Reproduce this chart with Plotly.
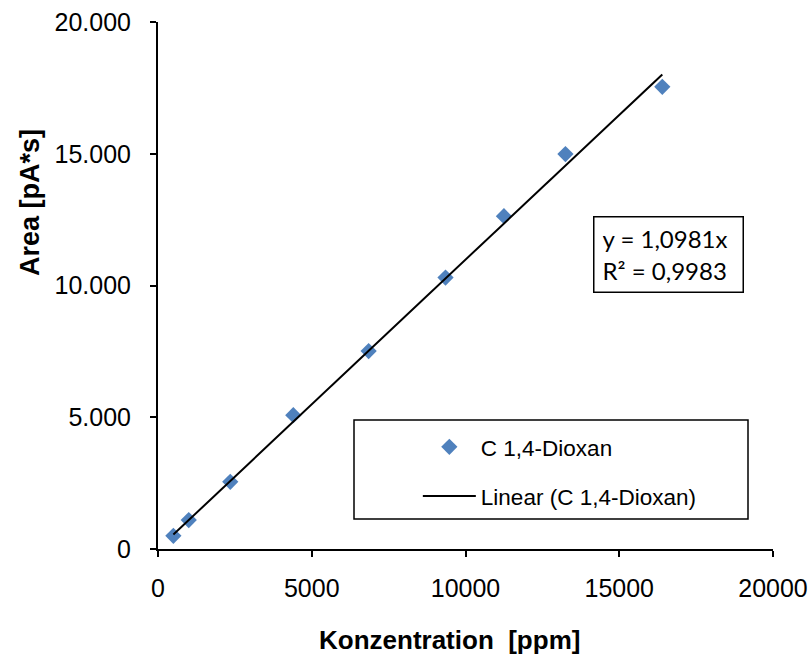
import plotly.graph_objects as go

# Data
konz = [500, 1000, 2350, 4400, 6850, 9350, 11250, 13250, 16400]
area = [500, 1100, 2550, 5080, 7510, 10300, 12630, 14990, 17540]
slope = 1.0981
r2_text = "R² = 0,9983"
eq_text = "y = 1,0981x"

x_ticks = [0, 5000, 10000, 15000, 20000]
x_ticktext = ["0", "5000", "10000", "15000", "20000"]
y_ticks = [0, 5000, 10000, 15000, 20000]
y_ticktext = ["0", "5.000", "10.000", "15.000", "20.000"]

series_name = "C 1,4-Dioxan"
trend_name = "Linear (C 1,4-Dioxan)"

x_fit = [min(konz), max(konz)]
y_fit = [slope * v for v in x_fit]

FONT = "Liberation Sans, Arial, sans-serif"

fig = go.Figure()
fig.add_trace(go.Scatter(
    x=konz, y=area, mode="markers", name=series_name,
    marker=dict(symbol="diamond", size=12.5, color="#4F81BD"),
    legendgroup="a",
))
fig.add_trace(go.Scatter(
    x=x_fit, y=y_fit, mode="lines", name=trend_name,
    line=dict(color="black", width=2),
    legendgroup="b",
))

L, R, T, B = 158, 37, 22, 111
W, H = 810 - L - R, 660 - T - B
fig.update_layout(
    width=810, height=660,
    margin=dict(l=L, r=R, t=T, b=B, autoexpand=False),
    paper_bgcolor="white", plot_bgcolor="white",
    font=dict(family=FONT, size=25, color="black"),
    showlegend=True,
    legend=dict(
        x=0.4225, y=0.234, xanchor="left", yanchor="top",
        bgcolor="rgba(0,0,0,0)", borderwidth=0,
        font=dict(size=22.5, family=FONT),
        itemwidth=53, tracegroupgap=17, traceorder="grouped",
    ),
    xaxis=dict(
        range=[0, 20000], tickvals=x_ticks, ticktext=x_ticktext,
        showgrid=False, zeroline=False, showline=True, automargin=False,
        linecolor="black", linewidth=2, ticks="outside", ticklen=6,
        tickwidth=2, tickcolor="black", ticklabelstandoff=10,
    ),
    yaxis=dict(
        range=[0, 20000], tickvals=y_ticks, ticktext=y_ticktext,
        showgrid=False, zeroline=False, showline=True, automargin=False,
        linecolor="black", linewidth=2, ticks="outside", ticklen=6,
        tickwidth=2, tickcolor="black", ticklabelstandoff=14,
    ),
)

# X axis title (slightly left of centre, as in the reference)
fig.add_annotation(
    xref="paper", yref="paper", x=(449 - L) / W, y=(549 - 640) / H,
    xanchor="center", yanchor="middle",
    text="<b>Konzentration  [ppm]</b>", showarrow=False,
    font=dict(family=FONT, size=26, color="black"),
)

# Y axis title (placed as in the reference, above centre)
fig.add_annotation(
    xref="paper", yref="paper", x=(30 - L) / W, y=(549 - 203) / H,
    xanchor="center", yanchor="middle", textangle=-90,
    text="<b>Area [pA*s]</b>", showarrow=False,
    font=dict(family=FONT, size=27, color="black"),
)

# Legend frame
fig.add_shape(type="rect", xref="paper", yref="paper",
              x0=(354 - L) / W, x1=(748 - L) / W,
              y0=(549 - 519) / H, y1=(549 - 420) / H,
              line=dict(color="black", width=1.5), fillcolor="rgba(0,0,0,0)", layer="above")

# Trendline equation box
fig.add_annotation(
    xref="paper", yref="paper", x=(668 - L) / W, y=(549 - 254.5) / H,
    xanchor="center", yanchor="middle",
    text=eq_text + "<br>" + r2_text, showarrow=False, align="left",
    width=132, height=58,
    font=dict(family="Lato, sans-serif", size=24, color="black"),
    bordercolor="black", borderwidth=1.5, borderpad=8, bgcolor="white",
)

fig.write_html("out.html")
